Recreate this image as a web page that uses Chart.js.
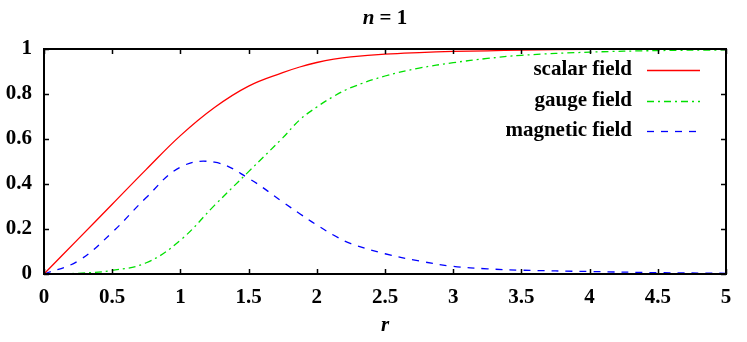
<!DOCTYPE html>
<html>
<head>
<meta charset="utf-8">
<script src="https://cdn.jsdelivr.net/npm/chart.js@4"></script>
<style>
  body { margin: 0; background: #fff; }
  canvas { display: block; }
</style>
</head>
<body>
<canvas id="chart" width="747" height="342"></canvas>
<script>
// radial coordinate r and the three field profiles
const rValues = [0, 0.25, 0.5, 0.75, 1, 1.25, 1.5, 1.75, 1.875, 2, 2.125, 2.25, 2.5, 2.75, 3, 3.25, 3.5, 4, 4.5, 5];
const scalarField = [0, 0.155, 0.31, 0.465, 0.615, 0.74, 0.835, 0.895, 0.92, 0.94, 0.955, 0.965, 0.977, 0.984, 0.989, 0.992, 0.995, 0.998, 0.999, 1.0];
const gaugeField = [0, 0.003, 0.016, 0.05, 0.15, 0.305, 0.455, 0.605, 0.685, 0.742, 0.79, 0.828, 0.88, 0.915, 0.939, 0.958, 0.972, 0.986, 0.993, 0.996];
const magneticField = [0, 0.058, 0.185, 0.34, 0.475, 0.497, 0.425, 0.32, 0.268, 0.218, 0.172, 0.135, 0.09, 0.058, 0.034, 0.023, 0.017, 0.011, 0.006, 0.003];

const seriesNames = ["scalar field", "gauge field", "magnetic field"];
const xTicks = [0, 0.5, 1, 1.5, 2, 2.5, 3, 3.5, 4, 4.5, 5];
const yTicks = [0, 0.2, 0.4, 0.6, 0.8, 1];

const serif = "'Liberation Serif', 'Times New Roman', serif";
const fontSize = 21;

function toPoints(ys) {
  const pts = [];
  for (let i = 0; i < rValues.length; i++) {
    pts.push({ x: rValues[i], y: ys[i] });
  }
  return pts;
}

// frame, inward ticks, title and gnuplot style key
const gnuplotBits = {
  id: "gnuplotBits",
  afterDraw(chart) {
    const ctx = chart.ctx;
    const area = chart.chartArea;
    const xs = chart.scales.x;
    const ys = chart.scales.y;
    ctx.save();

    // inward ticks on all four sides
    ctx.strokeStyle = "#000";
    ctx.lineWidth = 1.5;
    ctx.beginPath();
    xTicks.forEach(v => {
      const px = Math.round(xs.getPixelForValue(v)) + 0.5;
      ctx.moveTo(px, area.bottom);
      ctx.lineTo(px, area.bottom - 5);
      ctx.moveTo(px, area.top);
      ctx.lineTo(px, area.top + 5);
    });
    yTicks.forEach(v => {
      const py = Math.round(ys.getPixelForValue(v)) + 0.5;
      ctx.moveTo(area.left, py);
      ctx.lineTo(area.left + 5, py);
      ctx.moveTo(area.right, py);
      ctx.lineTo(area.right - 5, py);
    });
    ctx.stroke();

    // box
    ctx.lineWidth = 2;
    ctx.strokeRect(area.left, area.top, area.right - area.left, area.bottom - area.top);

    // title "n = 1" with italic n
    ctx.fillStyle = "#000";
    ctx.textBaseline = "middle";
    const cx = (area.left + area.right) / 2;
    ctx.font = "italic bold " + fontSize + "px " + serif;
    const wN = ctx.measureText("n").width;
    ctx.font = "bold " + fontSize + "px " + serif;
    const wRest = ctx.measureText(" = 1").width;
    const startX = cx - (wN + wRest) / 2;
    ctx.textAlign = "left";
    ctx.font = "italic bold " + fontSize + "px " + serif;
    ctx.fillText("n", startX, 19);
    ctx.font = "bold " + fontSize + "px " + serif;
    ctx.fillText(" = 1", startX + wN, 19);

    // key, text right aligned with line sample to its right
    const rowY = [70, 101, 131];
    chart.data.datasets.forEach((ds, i) => {
      ctx.font = "bold " + fontSize + "px " + serif;
      ctx.textAlign = "right";
      ctx.fillStyle = "#000";
      ctx.fillText(ds.label, 632, rowY[i]);
      ctx.strokeStyle = ds.borderColor;
      ctx.lineWidth = ds.borderWidth;
      ctx.setLineDash(ds.borderDash || []);
      ctx.beginPath();
      ctx.moveTo(647, rowY[i] + 0.5);
      ctx.lineTo(700, rowY[i] + 0.5);
      ctx.stroke();
      ctx.setLineDash([]);
    });
    ctx.restore();
  }
};

const ctx = document.getElementById("chart");
new Chart(ctx, {
  type: "line",
  data: {
    datasets: [
      {
        label: seriesNames[0],
        data: toPoints(scalarField),
        borderColor: "#ff0000",
        borderWidth: 1.3,
      },
      {
        label: seriesNames[1],
        data: toPoints(gaugeField),
        borderColor: "#00e000",
        borderWidth: 1.3,
        borderDash: [7, 4, 2, 4],
      },
      {
        label: seriesNames[2],
        data: toPoints(magneticField),
        borderColor: "#0000ff",
        borderWidth: 1.3,
        borderDash: [7, 7],
      },
    ],
  },
  options: {
    responsive: false,
    animation: false,
    layout: { padding: { left: 0, right: 21, top: 49, bottom: 0 } },
    elements: {
      point: { radius: 0 },
      line: { tension: 0.4, fill: false },
    },
    plugins: {
      legend: { display: false },
      title: { display: false },
      tooltip: { enabled: false },
    },
    scales: {
      x: {
        type: "linear",
        min: 0,
        max: 5,
        afterBuildTicks: scale => { scale.ticks = xTicks.map(v => ({ value: v })); },
        afterFit: scale => { scale.height = 68; },
        grid: { drawOnChartArea: false, drawTicks: false },
        border: { display: false },
        ticks: {
          padding: 11,
          color: "#000",
          font: { family: serif, size: fontSize, weight: "bold" },
          maxRotation: 0,
          callback: v => String(v),
        },
        title: {
          display: true,
          text: "r",
          color: "#000",
          font: { family: serif, size: fontSize, weight: "bold", style: "italic" },
          padding: { top: 4 },
        },
      },
      y: {
        min: 0,
        max: 1,
        afterBuildTicks: scale => { scale.ticks = yTicks.map(v => ({ value: v })); },
        afterFit: scale => { scale.width = 44; },
        grid: { drawOnChartArea: false, drawTicks: false },
        border: { display: false },
        ticks: {
          padding: 12,
          color: "#000",
          font: { family: serif, size: fontSize, weight: "bold" },
          callback: v => String(v),
        },
      },
    },
  },
  plugins: [gnuplotBits],
});
</script>
</body>
</html>
